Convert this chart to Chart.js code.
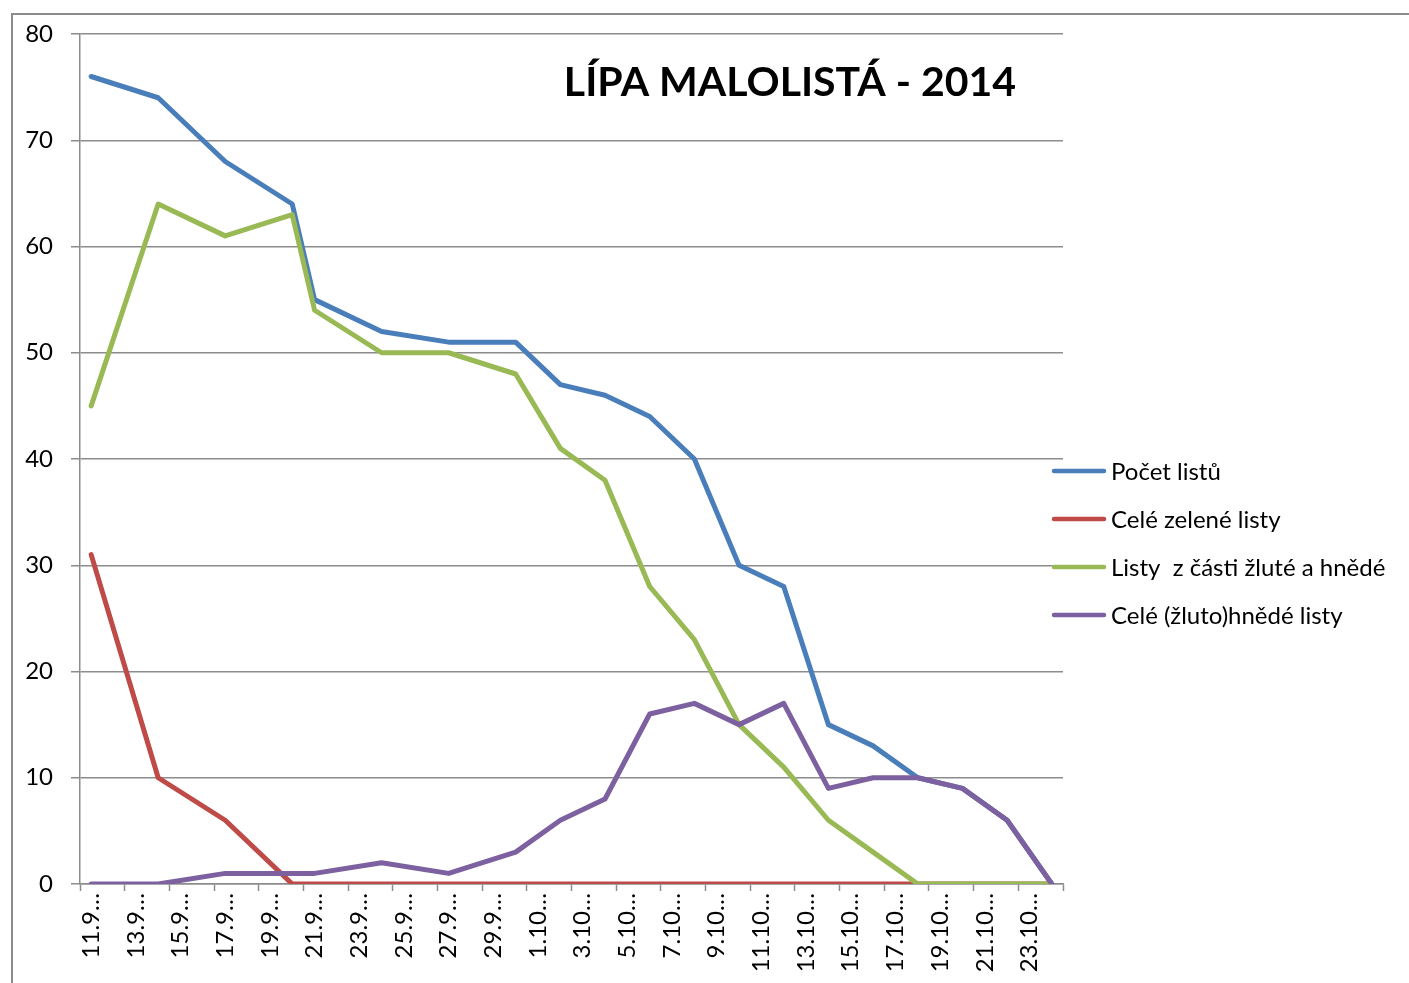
<!DOCTYPE html>
<html lang="cs">
<head>
<meta charset="utf-8">
<title>Lípa malolistá - 2014</title>
<script src="https://cdn.jsdelivr.net/npm/chart.js@4.4.1/dist/chart.umd.min.js"></script>
<style>
    html, body { margin: 0; padding: 0; background: #fff; overflow: hidden; }
    #ramecek { position: absolute; left: 11px; top: 13px; width: 1500px; height: 1100px; border: 2px solid #8c8c8c; }
    #obal { position: absolute; left: 0; top: 0; width: 1409px; height: 983px; }
</style>
</head>
<body>
<div id="ramecek"></div>
<div id="obal"><canvas id="graf"></canvas></div>
<script>
// nadpis grafu
const nadpis = 'LÍPA MALOLISTÁ - 2014';

// vsechny dny na ose x (11.9 - 24.10)
const dnyOsy = [
    '11.9', '12.9', '13.9', '14.9', '15.9', '16.9', '17.9', '18.9', '19.9', '20.9',
    '21.9', '22.9', '23.9', '24.9', '25.9', '26.9', '27.9', '28.9', '29.9', '30.9',
    '1.10', '2.10', '3.10', '4.10', '5.10', '6.10', '7.10', '8.10', '9.10', '10.10',
    '11.10', '12.10', '13.10', '14.10', '15.10', '16.10', '17.10', '18.10', '19.10', '20.10',
    '21.10', '22.10', '23.10', '24.10'
];

// dny, kdy se pocitaly listy
const dnyMereni = [
    '11.9', '14.9', '17.9', '20.9', '21.9', '24.9', '27.9', '30.9', '2.10', '4.10',
    '6.10', '8.10', '10.10', '12.10', '14.10', '16.10', '18.10', '20.10', '22.10', '24.10'
];

const nazvyRad = ['Počet listů', 'Celé zelené listy', 'Listy  z části žluté a hnědé', 'Celé (žluto)hnědé listy'];

const pocetListu    = [76, 74, 68, 64, 55, 52, 51, 51, 47, 46, 44, 40, 30, 28, 15, 13, 10, 9, 6, 0];
const celeZelene    = [31, 10, 6, 0, 0, 0, 0, 0, 0, 0, 0, 0, 0, 0, 0, 0, 0, 0, 0, 0];
const castecneZlute = [45, 64, 61, 63, 54, 50, 50, 48, 41, 38, 28, 23, 15, 11, 6, 3, 0, 0, 0, 0];
const celeHnede     = [0, 0, 1, 1, 1, 2, 1, 3, 6, 8, 16, 17, 15, 17, 9, 10, 10, 9, 6, 0];

const barvy = ['#4A7EBB', '#BE4B48', '#98B954', '#7D60A0'];

const osaYMin = 0;
const osaYMax = 80;
const osaYKrok = 10;

const sedaMrizka = '#8c8c8c';
const pismo = 'Lato';

//spoji den mereni s hodnotou
function body(hodnoty) {
    return dnyMereni.map((den, i) => ({ x: den, y: hodnoty[i] }));
}

//nadpis uvnitr grafu a legenda vpravo (jako v excelu)
const nadpisALegenda = {
    id: 'nadpisALegenda',
    afterDraw(chart) {
        const { ctx, chartArea } = chart;
        ctx.save();
        ctx.fillStyle = '#000';
        ctx.font = `bold 41px ${pismo}`;
        ctx.textAlign = 'center';
        ctx.textBaseline = 'alphabetic';
        ctx.fillText(nadpis, chartArea.left + 710, chartArea.top + 62);

        ctx.font = `24px ${pismo}`;
        ctx.textAlign = 'left';
        ctx.textBaseline = 'middle';
        chart.data.datasets.forEach((ds, i) => {
            const y = chartArea.top + 437 + i * 48;
            const x = chartArea.right - 9;
            ctx.strokeStyle = ds.borderColor;
            ctx.lineWidth = 4.5;
            ctx.lineCap = 'round';
            ctx.beginPath();
            ctx.moveTo(x, y);
            ctx.lineTo(x + 50, y);
            ctx.stroke();
            ctx.fillText(ds.label, x + 57, y + 1);
        });
        ctx.restore();
    }
};

document.addEventListener('DOMContentLoaded', () => {
    const rady = [pocetListu, celeZelene, castecneZlute, celeHnede];

    const ctx = document.getElementById('graf').getContext('2d');
    new Chart(ctx, {
        type: 'line',
        data: {
            labels: dnyOsy,
            datasets: rady.map((hodnoty, i) => ({
                label: nazvyRad[i],
                data: body(hodnoty),
                borderColor: barvy[i],
                backgroundColor: barvy[i],
                borderWidth: 5,
                borderCapStyle: 'round',
                borderJoinStyle: 'round',
                pointRadius: 0,
                pointHoverRadius: 0,
                tension: 0,
                fill: false,
                order: rady.length - i // posledni rada navrchu
            }))
        },
        options: {
            responsive: true,
            maintainAspectRatio: false,
            animation: false,
            events: [],
            layout: {
                padding: { left: 0, top: 34, right: 346, bottom: 0 }
            },
            plugins: {
                legend: { display: false },
                title: { display: false },
                tooltip: { enabled: false }
            },
            scales: {
                x: {
                    type: 'category',
                    offset: true,
                    afterFit: scale => { scale.height = 99; },
                    grid: {
                        offset: true,
                        drawOnChartArea: false,
                        drawTicks: true,
                        tickLength: 7,
                        tickWidth: 1.5,
                        tickColor: c => (c.type !== 'tick' || c.index % 2 === 0) ? sedaMrizka : 'rgba(0,0,0,0)'
                    },
                    border: { display: true, color: sedaMrizka, width: 1.5 },
                    ticks: {
                        autoSkip: false,
                        minRotation: 90,
                        maxRotation: 90,
                        padding: 2,
                        color: '#000',
                        font: { family: pismo, size: 24 },
                        callback: function (value, index) {
                            return index % 2 === 0 ? this.getLabelForValue(value) + '…' : '';
                        }
                    }
                },
                y: {
                    min: osaYMin,
                    max: osaYMax,
                    afterFit: scale => { scale.width = 80; },
                    grid: {
                        color: sedaMrizka,
                        lineWidth: 1.5,
                        tickLength: 9,
                        tickColor: sedaMrizka
                    },
                    border: { display: true, color: sedaMrizka, width: 1.5 },
                    ticks: {
                        stepSize: osaYKrok,
                        padding: 18,
                        color: '#000',
                        font: { family: pismo, size: 24 }
                    }
                }
            }
        },
        plugins: [nadpisALegenda]
    });
});
</script>
</body>
</html>
